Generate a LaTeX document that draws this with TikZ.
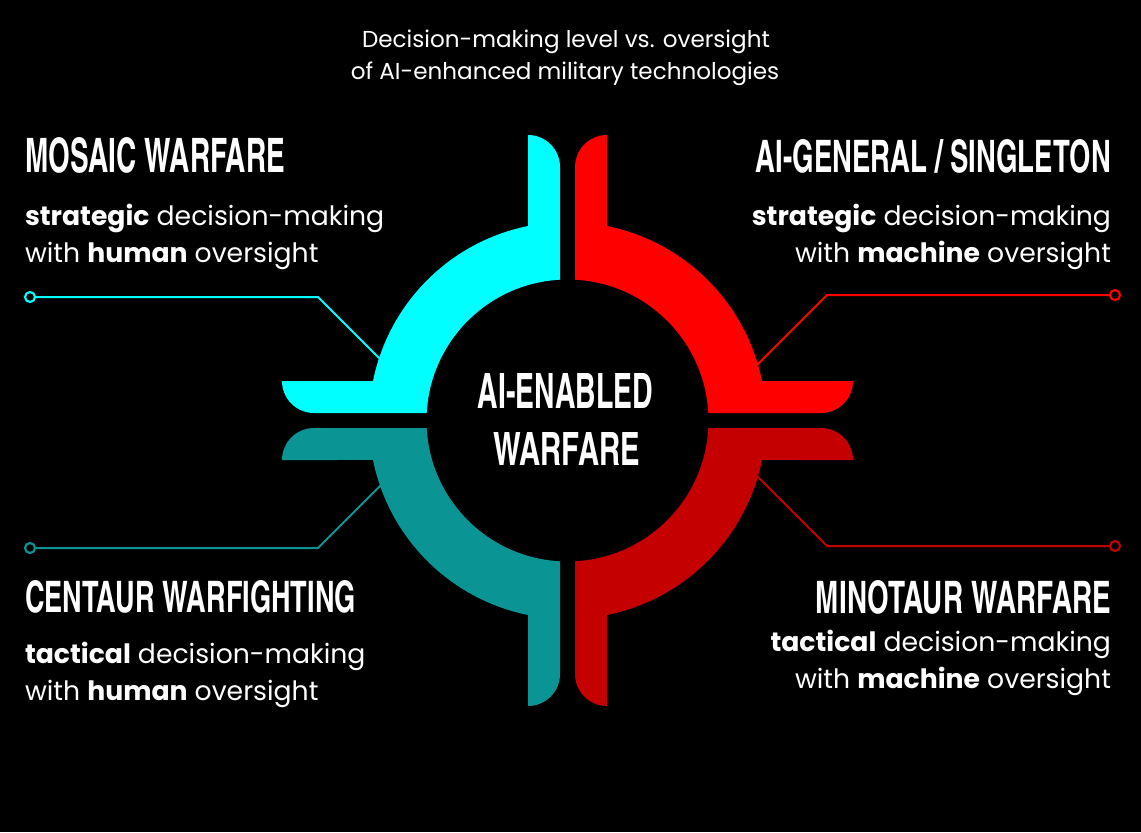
\documentclass[tikz,border=0pt]{standalone}
\usepackage{fontspec}
\usepackage{graphicx}
\setmainfont{Poppins}
\newfontfamily\condfont{texgyreheroscn-bold}[Extension=.otf]
\newlength\px
\setlength\px{0.75pt}
\definecolor{qcyan}{HTML}{00FFFF}
\definecolor{qred}{HTML}{FF0000}
\definecolor{qteal}{HTML}{0B9494}
\definecolor{qdred}{HTML}{C40000}
\newcommand\quadpath{(-7.5,140.8) -- (-7.5,253.5) arc[start angle=0,end angle=90,radius=32] -- (-39.5,194.5) arc[start angle=101.48,end angle=168.52,radius=198.5] -- (-285.5,39.5) arc[start angle=180,end angle=270,radius=32] -- (-140.8,7.5) arc[start angle=176.95,end angle=93.05,radius=141] -- cycle}
\newcommand\hd[3]{\resizebox{#1\px}{#2\px}{\condfont #3}}
\begin{document}
\begin{tikzpicture}[x=0.75pt,y=0.75pt,
  txt/.style={inner sep=0pt,outer sep=0pt,text=white,font=\fontsize{20pt}{24pt}\selectfont},
  ttl/.style={inner sep=0pt,outer sep=0pt,text=white,font=\fontsize{17.3pt}{20pt}\selectfont},
  hdn/.style={inner sep=0pt,outer sep=0pt,text=white},
  conn/.style={line width=1.5pt},
  endpt/.style={circle,draw,line width=1.6pt,fill=black,minimum size=10\px,inner sep=0pt}]
\fill[black] (0,0) rectangle (1141,-832);
% connectors
\node[endpt,draw=qcyan] (c1) at (30,-297) {};
\coordinate (k1) at (318,-297);
\coordinate (e1) at (385,-364);
\node[endpt,draw=qred] (c2) at (1115,-295) {};
\coordinate (k2) at (827,-295);
\coordinate (e2) at (753,-369);
\node[endpt,draw=qteal] (c3) at (30,-548) {};
\coordinate (k3) at (318,-548);
\coordinate (e3) at (385,-481);
\node[endpt,draw=qdred] (c4) at (1115,-546) {};
\coordinate (k4) at (827,-546);
\coordinate (e4) at (753,-472);
\draw[conn,qcyan] (c1) -- (k1) -- (e1);
\draw[conn,qred] (c2) -- (k2) -- (e2);
\draw[conn,qteal] (c3) -- (k3) -- (e3);
\draw[conn,qdred] (c4) -- (k4) -- (e4);
% quadrant shapes
\begin{scope}[shift={(567.5,-420.5)}]
\fill[qcyan] \quadpath;
\begin{scope}[xscale=-1]\fill[qred] \quadpath;\end{scope}
\begin{scope}[yscale=-1]\fill[qteal] \quadpath;\end{scope}
\begin{scope}[xscale=-1,yscale=-1]\fill[qdred] \quadpath;\end{scope}
\end{scope}
% title
\node[ttl,anchor=base] (t1) at (566,-47) {Decision-making level vs. oversight};
\node[ttl,anchor=base] (t2) at (565,-79) {of AI-enhanced military technologies};
% centre
\node[hdn,anchor=north] (m1) at (565.5,-373) {\hd{175}{35}{AI-ENABLED}};
\node[hdn,anchor=north] (m2) at (566.5,-432) {\hd{147}{33}{WARFARE}};
% headings
\node[hdn,anchor=north west] (h1) at (25,-137) {\hd{260}{35}{MOSAIC WARFARE}};
\node[hdn,anchor=north east] (h2) at (1111,-139) {\hd{355}{33}{AI-GENERAL / SINGLETON}};
\node[hdn,anchor=north west] (h3) at (25,-580) {\hd{331}{32}{CENTAUR WARFIGHTING}};
\node[hdn,anchor=north east] (h4) at (1111,-580) {\hd{295}{33}{MINOTAUR WARFARE}};
% body
\node[txt,anchor=base west] (b1a) at (25,-225) {\textbf{strategic} decision-making};
\node[txt,anchor=base west] (b1b) at (25,-262) {with \textbf{human} oversight};
\node[txt,anchor=base east] (b2a) at (1111,-225) {\textbf{strategic} decision-making};
\node[txt,anchor=base east] (b2b) at (1111,-262) {with \textbf{machine} oversight};
\node[txt,anchor=base west] (b3a) at (25,-663) {\textbf{tactical} decision-making};
\node[txt,anchor=base west] (b3b) at (25,-700) {with \textbf{human} oversight};
\node[txt,anchor=base east] (b4a) at (1111,-651) {\textbf{tactical} decision-making};
\node[txt,anchor=base east] (b4b) at (1111,-688) {with \textbf{machine} oversight};
\end{tikzpicture}
\end{document}
